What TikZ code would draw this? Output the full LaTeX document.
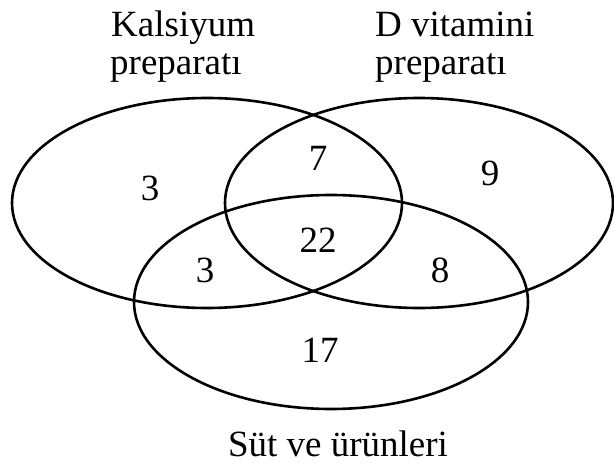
\documentclass[tikz,border=0pt]{standalone}
\usepackage{fontspec}
\setmainfont{Liberation Serif}
\begin{document}
\begin{tikzpicture}[x=1pt,y=-1pt,
  setring/.style={draw=black, line width=2.6pt},
  numlbl/.style={inner sep=0pt, font=\fontsize{37}{40}\selectfont},
  titlelbl/.style={inner sep=0pt, anchor=base west, font=\fontsize{37}{40}\selectfont}]
\useasboundingbox (0,0) rectangle (614,468);
\draw[setring] (207,203) ellipse [x radius=195, y radius=105];
\draw[setring] (419,203) ellipse [x radius=194, y radius=105];
\draw[setring] (331,302) ellipse [x radius=197, y radius=107];
\node[titlelbl] (k1) at (111,37) {Kalsiyum};
\node[titlelbl] (k2) at (110,75) {preparatı};
\node[titlelbl] (d1) at (375,37) {D vitamini};
\node[titlelbl] (d2) at (375,75) {preparatı};
\node[titlelbl, anchor=base] (s1) at (338,456) {Süt ve ürünleri};
\node[numlbl] (n1) at (150,188) {3};
\node[numlbl] (n2) at (318,158) {7};
\node[numlbl] (n3) at (490,173) {9};
\node[numlbl] (n4) at (205,270) {3};
\node[numlbl] (n5) at (318,240) {22};
\node[numlbl] (n6) at (440,270) {8};
\node[numlbl] (n7) at (320,350) {17};
\end{tikzpicture}
\end{document}
